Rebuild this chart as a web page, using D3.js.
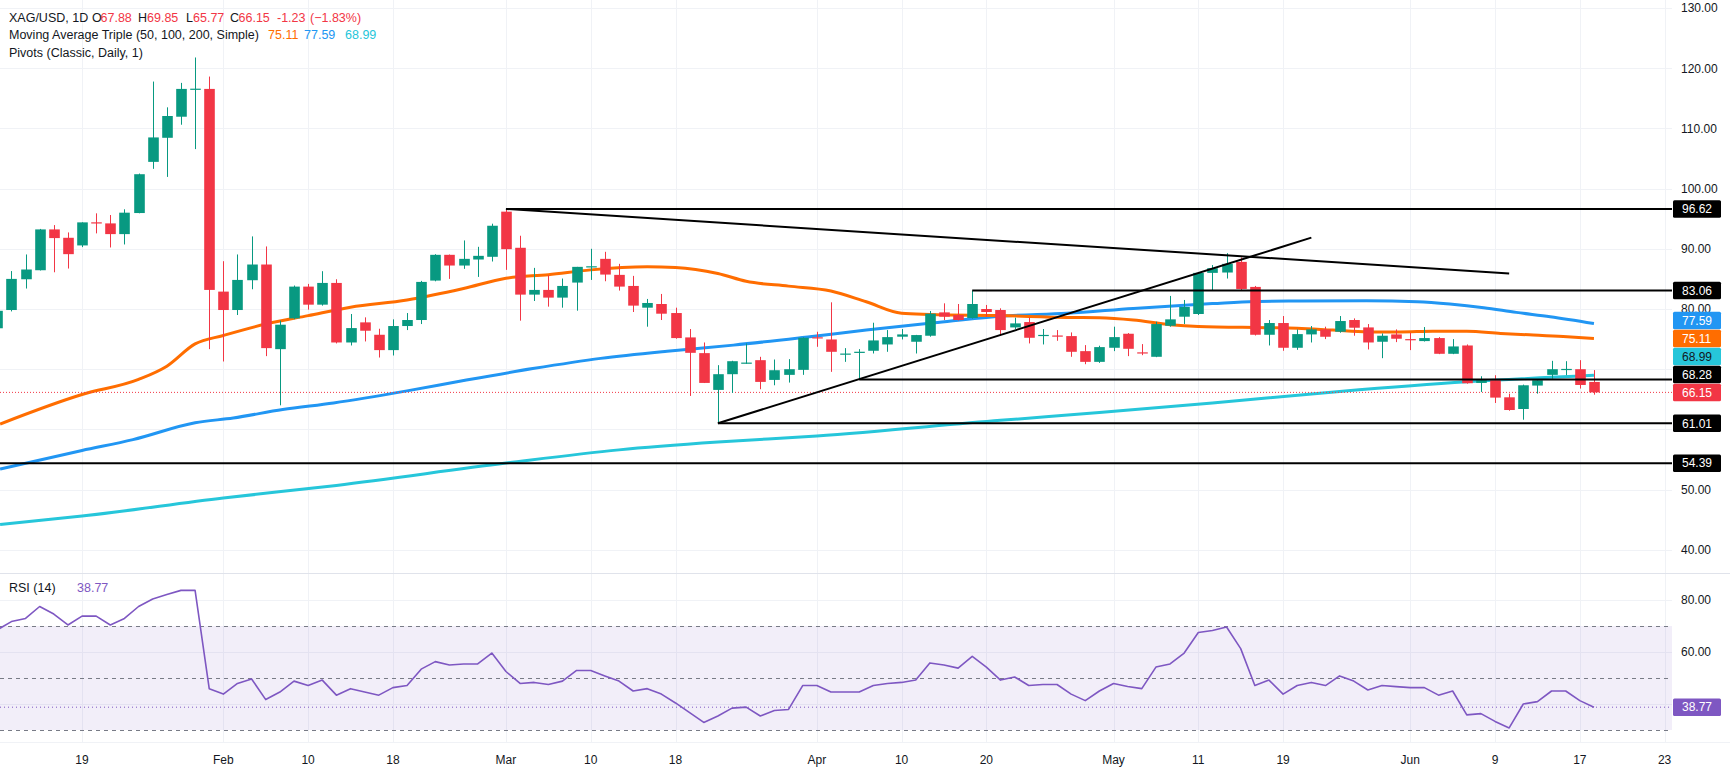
<!DOCTYPE html>
<html><head><meta charset="utf-8">
<script src="https://cdn.jsdelivr.net/npm/d3@7"></script>
<style>
body{margin:0;background:#fff;}
svg{display:block;font-family:"Liberation Sans",Arial,sans-serif;}
</style>
</head><body>
<svg id="chart" width="1730" height="775"></svg>
<script>
// ---------------- DATA ----------------
const dates = ["2026-01-09","2026-01-12","2026-01-13","2026-01-14","2026-01-15","2026-01-16","2026-01-19","2026-01-20","2026-01-21","2026-01-22","2026-01-23","2026-01-26","2026-01-27","2026-01-28","2026-01-29","2026-01-30","2026-02-02","2026-02-03","2026-02-04","2026-02-05","2026-02-06","2026-02-09","2026-02-10","2026-02-11","2026-02-12","2026-02-13","2026-02-16","2026-02-17","2026-02-18","2026-02-19","2026-02-20","2026-02-23","2026-02-24","2026-02-25","2026-02-26","2026-02-27","2026-03-02","2026-03-03","2026-03-04","2026-03-05","2026-03-06","2026-03-09","2026-03-10","2026-03-11","2026-03-12","2026-03-13","2026-03-16","2026-03-17","2026-03-18","2026-03-19","2026-03-20","2026-03-23","2026-03-24","2026-03-25","2026-03-26","2026-03-27","2026-03-30","2026-03-31","2026-04-01","2026-04-02","2026-04-06","2026-04-07","2026-04-08","2026-04-09","2026-04-10","2026-04-13","2026-04-14","2026-04-15","2026-04-16","2026-04-17","2026-04-20","2026-04-21","2026-04-22","2026-04-23","2026-04-24","2026-04-27","2026-04-28","2026-04-29","2026-04-30","2026-05-01","2026-05-04","2026-05-05","2026-05-06","2026-05-07","2026-05-08","2026-05-11","2026-05-12","2026-05-13","2026-05-14","2026-05-15","2026-05-18","2026-05-19","2026-05-20","2026-05-21","2026-05-22","2026-05-25","2026-05-26","2026-05-27","2026-05-28","2026-05-29","2026-06-01","2026-06-02","2026-06-03","2026-06-04","2026-06-05","2026-06-08","2026-06-09","2026-06-10","2026-06-11","2026-06-12","2026-06-15","2026-06-16","2026-06-17","2026-06-18"];

const open  = [76.8,79.83,84.94,86.44,93.22,91.83,90.56,94.4,94.22,92.44,95.94,104.44,108.44,111.94,116.5,116.56,82.89,79.83,84.78,87.39,73.33,78.44,83.72,80.72,84.33,74.44,77.78,75.72,73.17,77.17,78.17,84.72,89.0,87.22,88.22,88.67,96.17,90.17,82.39,83.17,81.89,84.39,87.0,88.33,85.67,83.83,80.22,80.83,79.33,75.28,72.67,66.56,69.17,71.0,71.5,68.22,69.06,69.89,75.3,74.94,72.5,72.8,73.06,74.11,75.4,74.56,75.56,79.44,79.0,78.5,80.0,79.83,76.94,77.83,75.6,75.6,75.5,73.0,71.22,73.56,75.89,72.8,72.06,77.22,78.72,79.17,86.0,86.06,87.83,83.67,75.72,77.67,73.56,75.78,76.61,76.22,78.17,76.94,74.56,75.78,75.0,74.67,75.17,72.56,73.94,67.72,68.17,65.33,63.39,67.28,69.06,69.95,70.0,67.88];
const high  = [80.0,86.3,89.06,93.3,93.94,92.72,94.4,95.89,95.61,96.56,102.5,117.78,113.5,117.56,121.78,118.61,87.94,89.06,92.06,90.39,78.06,83.9,84.17,86.28,84.94,79.17,78.61,76.72,78.28,79.33,84.67,89.1,89.05,91.39,90.33,94.17,96.62,92.17,86.83,85.61,85.06,87.0,90.0,89.5,87.5,85.5,81.67,82.5,80.22,76.67,74.44,70.67,71.4,74.28,72.06,71.61,71.67,75.3,76.22,81.11,73.5,73.33,77.72,76.5,76.67,75.7,79.67,80.94,80.83,83.06,80.67,80.11,78.56,78.56,76.67,76.5,76.11,74.0,73.9,77.06,76.0,74.17,77.89,82.17,81.5,86.1,87.3,89.28,88.56,83.83,78.17,78.83,76.61,77.17,77.06,78.83,78.44,77.5,75.94,76.61,76.06,77.0,75.33,75.0,74.11,68.83,69.0,65.94,67.44,68.2,71.39,71.33,71.5,69.85];
const low   = [76.3,79.6,83.4,86.4,86.1,86.72,90.28,92.56,90.22,90.72,95.9,103.28,101.94,110.61,106.56,73.33,71.28,79.0,83.28,72.17,64.0,78.3,79.89,80.56,74.28,73.94,74.61,71.94,72.28,76.5,77.5,84.6,85.0,86.67,85.33,87.89,86.5,78.06,81.33,80.39,80.22,79.72,84.83,84.61,83.06,79.5,77.06,78.17,75.06,65.56,67.7,61.01,66.06,70.9,66.67,67.33,67.78,69.06,73.72,69.56,71.22,68.28,72.61,72.89,74.94,72.61,75.4,78.17,78.1,78.4,78.72,75.56,76.67,74.28,74.11,74.72,72.06,70.83,71.05,73.0,72.17,72.33,72.0,77.06,77.5,79.0,83.06,85.06,83.17,75.6,73.94,73.06,73.22,74.44,75.0,76.06,75.56,73.28,71.83,74.5,73.17,74.6,72.5,72.5,67.6,66.22,64.39,63.1,61.61,65.94,68.44,69.0,66.78,65.77];
const close = [79.7,85.0,86.56,93.22,91.78,89.11,94.39,94.3,92.44,96.0,102.39,108.5,112.06,116.56,116.6,83.17,79.83,84.83,87.39,73.5,77.39,83.72,80.72,84.33,74.44,76.83,76.39,73.17,77.17,78.17,84.5,89.0,87.22,88.33,88.83,93.83,89.94,82.39,83.17,81.89,83.83,87.0,87.1,85.72,83.72,80.56,81.0,79.22,75.17,72.72,67.72,69.17,71.33,71.1,67.89,69.83,70.0,75.22,75.2,72.89,72.6,72.9,74.78,75.33,75.78,75.67,79.22,78.72,78.17,80.83,79.5,76.5,77.61,75.22,75.7,75.5,72.89,71.22,73.67,75.33,73.39,72.7,77.5,78.28,80.33,86.0,86.78,87.5,83.33,75.72,77.67,73.56,75.83,76.61,75.39,78.0,76.89,74.44,75.56,75.06,74.9,75.17,72.56,73.78,67.67,68.17,65.28,63.22,67.33,68.17,70.0,70.05,67.38,66.15];

const rsi = [68.5,71.7,72.9,77.5,74.6,70.4,73.8,73.8,70.4,72.9,77.5,80.4,82.1,83.7,83.7,45.9,43.8,47.9,49.6,41.7,44.6,48.8,47.1,49.2,43.4,45.9,44.6,43.4,46.3,47.1,53.4,56.3,55.0,55.4,55.4,59.6,52.5,47.9,48.3,47.5,48.8,52.9,52.9,50.8,48.8,45.0,45.9,43.8,40.4,36.7,32.9,35.4,38.4,38.8,35.4,37.5,37.9,47.1,47.1,44.6,44.6,44.6,47.1,47.9,48.3,49.2,55.8,55.0,53.8,58.3,54.2,49.2,50.4,47.1,47.5,47.5,43.8,41.3,45.0,47.9,46.7,45.9,54.2,55.4,59.6,67.5,68.3,69.6,61.3,47.1,49.2,43.8,47.1,48.3,47.1,50.8,48.8,45.4,47.1,46.7,46.3,46.3,43.4,45.0,35.8,36.3,33.3,30.8,40.0,40.9,45.0,45.0,41.3,38.77];

// moving averages: [bar index, value]
const ma50  = [[-0.8,60.9],[5,65.8],[9,68.3],[11,70.5],[13,74.2],[15,75.6],[18,77.5],[21,78.9],[24,80.3],[28,81.5],[32,83.4],[35,85.1],[38,85.7],[41,86.5],[45,87.0],[47,86.9],[50,85.9],[52,84.6],[55,83.8],[58,83.0],[60.5,81.2],[63,79.3],[65,79.1],[70,78.9],[74.7,78.6],[77,78.55],[79.4,78.17],[82,77.4],[84,77.1],[88.8,76.9],[91,76.8],[93.5,76.5],[96,76.2],[98.3,76.2],[100.6,76.3],[103,76.3],[105.4,75.95],[107.7,75.67],[110.1,75.4],[112,75.11]];
const ma100 = [[-0.8,53.4],[5,56.5],[8.6,58.3],[13,61.1],[15.7,61.9],[19.2,63.3],[22.8,64.4],[28,66.4],[32.2,68.2],[36.9,70.1],[41.7,71.8],[46.4,73.0],[51.1,74.0],[56.5,75.4],[60.5,76.5],[65.3,77.7],[70,78.8],[74.7,79.3],[79.4,80.1],[85,80.9],[88,81.25],[91.2,81.33],[95.9,81.39],[99.5,81.22],[101.8,80.83],[104.2,80.22],[106.5,79.44],[108.9,78.72],[112,77.59]];
const ma200 = [[-0.8,44.2],[5,45.6],[15,48.6],[23,50.7],[35,54.4],[43,56.6],[50,57.9],[57,58.9],[70,61.5],[77,62.8],[85,64.4],[94,66.3],[103,67.9],[112,68.99]];

const tickIndex  = [5,15,21,27,35,41,47,57,63,69,78,84,90,99,105,111,117];
const tickLabels = ["19","Feb","10","18","Mar","10","18","Apr","10","20","May","11","19","Jun","9","17","23"];
const priceTicks = [130,120,110,100,90,80,70,60,50,40];
const rsiTicks = [80,60,40];
const rsiBands = [70,50,30];

const pivotLevels = [96.62,83.06,68.28,61.01,54.39];
const pivotStart  = [35,68,60,50,-2];
const trendLines  = [[35,96.62,106,85.9],[50,61.01,92,91.85]];

const last = {o:67.88,h:69.85,l:65.77,c:66.15,chg:"-1.23",pct:"(\u22121.83%)"};
const maLast = [75.11,77.59,68.99];
const rsiLast = 38.77;

// ---------------- LAYOUT ----------------
const W=1730, H=775, paneR=1672, mainTop=0, mainBot=573, rsiBot=742;
const firstIdx = -1;
const col = {up:"#089981", dn:"#F23645", ma50:"#FF6D00", ma100:"#2196F3", ma200:"#26C6DA", rsi:"#7E57C2", text:"#131722", grid:"#F0F2F6"};

const svg = d3.select("#chart");
const x = d3.scaleLinear().domain([0,117]).range([11.4,1664.6]);
const y = d3.scaleLinear().domain([40,130]).range([549.8,8]);
const yr = d3.scaleLinear().domain([30,80]).range([730,600]);

const defs = svg.append("defs");
defs.append("clipPath").attr("id","cm").append("rect").attr("x",0).attr("y",mainTop).attr("width",paneR).attr("height",mainBot-mainTop);
defs.append("clipPath").attr("id","cr").append("rect").attr("x",0).attr("y",mainBot).attr("width",paneR).attr("height",rsiBot-mainBot);

// grid
const g0 = svg.append("g");
g0.selectAll(".vg").data(tickIndex).join("line")
  .attr("x1",d=>Math.round(x(d))+0.5).attr("x2",d=>Math.round(x(d))+0.5)
  .attr("y1",0).attr("y2",rsiBot).attr("stroke",col.grid);
g0.selectAll(".hg").data(priceTicks).join("line")
  .attr("x1",0).attr("x2",paneR).attr("y1",d=>Math.round(y(d))+0.5).attr("y2",d=>Math.round(y(d))+0.5).attr("stroke",col.grid);
g0.selectAll(".rg").data(rsiTicks).join("line")
  .attr("x1",0).attr("x2",paneR).attr("y1",d=>Math.round(yr(d))+0.5).attr("y2",d=>Math.round(yr(d))+0.5).attr("stroke",col.grid);

// separators
svg.append("line").attr("x1",0).attr("x2",W).attr("y1",mainBot+0.5).attr("y2",mainBot+0.5).attr("stroke","#E0E3EB");
svg.append("line").attr("x1",0).attr("x2",W).attr("y1",rsiBot+0.5).attr("y2",rsiBot+0.5).attr("stroke","#F0F2F6");

// ---------------- MAIN PANE ----------------
const gm = svg.append("g").attr("clip-path","url(#cm)");

const lineGen = d3.line().x(d=>x(d[0])).y(d=>y(d[1])).curve(d3.curveMonotoneX);
[[ma200,col.ma200],[ma100,col.ma100],[ma50,col.ma50]].forEach(([d,c])=>{
  gm.append("path").attr("d",lineGen(d)).attr("fill","none").attr("stroke",c).attr("stroke-width",3).attr("stroke-linejoin","round");
});

// current price dotted line
gm.append("line").attr("x1",0).attr("x2",paneR).attr("y1",y(last.c)).attr("y2",y(last.c))
  .attr("stroke",col.dn).attr("stroke-width",1).attr("stroke-dasharray","1,2");

// candles
const bars = dates.map((d,k)=>({i:k+firstIdx,o:open[k],h:high[k],l:low[k],c:close[k]}));
const bw = 10.6;
const gc = gm.append("g");
gc.selectAll(".wick").data(bars).join("line")
  .attr("x1",d=>Math.round(x(d.i))+0.5).attr("x2",d=>Math.round(x(d.i))+0.5)
  .attr("y1",d=>y(d.h)).attr("y2",d=>y(d.l))
  .attr("stroke",d=>d.c>=d.o?col.up:col.dn).attr("stroke-width",1);
gc.selectAll(".body").data(bars).join("rect")
  .attr("x",d=>Math.round(x(d.i))+0.5-bw/2).attr("width",bw)
  .attr("y",d=>Math.min(y(d.o),y(d.c)))
  .attr("height",d=>Math.max(1.2,Math.abs(y(d.o)-y(d.c))))
  .attr("fill",d=>d.c>=d.o?col.up:col.dn);

// pivots
gm.selectAll(".pv").data(pivotLevels).join("line")
  .attr("x1",(d,k)=>pivotStart[k]<-1?0:x(pivotStart[k])).attr("x2",paneR)
  .attr("y1",d=>y(d)).attr("y2",d=>y(d)).attr("stroke","#000").attr("stroke-width",2);
// trend lines
gm.selectAll(".tl").data(trendLines).join("line")
  .attr("x1",d=>x(d[0])).attr("y1",d=>y(d[1])).attr("x2",d=>x(d[2])).attr("y2",d=>y(d[3]))
  .attr("stroke","#000").attr("stroke-width",2);

// ---------------- RSI PANE ----------------
const gr = svg.append("g").attr("clip-path","url(#cr)");
gr.append("rect").attr("x",0).attr("width",paneR).attr("y",yr(70)).attr("height",yr(30)-yr(70)).attr("fill","rgba(126,87,194,0.1)");
gr.selectAll(".band").data(rsiBands).join("line")
  .attr("x1",0).attr("x2",paneR).attr("y1",d=>Math.round(yr(d))+0.5).attr("y2",d=>Math.round(yr(d))+0.5)
  .attr("stroke","#787B86").attr("stroke-dasharray","4,4").attr("stroke-width",1);
gr.append("line").attr("x1",0).attr("x2",paneR).attr("y1",yr(rsiLast)).attr("y2",yr(rsiLast))
  .attr("stroke",col.rsi).attr("stroke-width",1).attr("stroke-dasharray","1,3");
const rsiLine = d3.line().x((d,k)=>x(k+firstIdx)).y(d=>yr(d));
gr.append("path").attr("d",rsiLine(rsi)).attr("fill","none").attr("stroke",col.rsi).attr("stroke-width",1.6).attr("stroke-linejoin","round");

// ---------------- AXIS VALUE BOXES ----------------
const boxes = [
  {v:pivotLevels[0],bg:"#000",fg:"#fff"},
  {v:pivotLevels[1],bg:"#000",fg:"#fff"},
  {v:maLast[1],bg:col.ma100,fg:"#fff"},
  {v:maLast[0],bg:col.ma50,fg:"#fff"},
  {v:maLast[2],bg:col.ma200,fg:"#131722"},
  {v:pivotLevels[2],bg:"#000",fg:"#fff"},
  {v:last.c,bg:col.dn,fg:"#fff",fixed:true},
  {v:pivotLevels[3],bg:"#000",fg:"#fff"},
  {v:pivotLevels[4],bg:"#000",fg:"#fff"}
];
boxes.forEach(b=>b.y=y(b.v));
const bh = 18;
const fixed = boxes.find(b=>b.fixed);
const above = boxes.filter(b=>!b.fixed && b.y<=fixed.y).sort((a,b)=>b.y-a.y);
let prev = fixed.y;
above.forEach(b=>{ b.y=Math.min(b.y,prev-bh); prev=b.y; });
const below = boxes.filter(b=>!b.fixed && b.y>fixed.y).sort((a,b)=>a.y-b.y);
prev = fixed.y;
below.forEach(b=>{ b.y=Math.max(b.y,prev+bh); prev=b.y; });
boxes.push({v:rsiLast,bg:col.rsi,fg:"#fff",y:yr(rsiLast)});

// ---------------- AXES ----------------
const fs = 12;
svg.append("g").selectAll("text").data(tickIndex).join("text")
  .attr("x",d=>x(d)).attr("y",764).attr("text-anchor","middle")
  .attr("font-size",fs).attr("fill",col.text).text((d,k)=>tickLabels[k]);
// tick labels hidden where a value box covers them (as on the reference scale)
const free = py => !boxes.some(b=>Math.abs(b.y-py)<10.5);
svg.append("g").selectAll("text").data(priceTicks.filter(d=>free(y(d)))).join("text")
  .attr("x",1681).attr("y",d=>y(d)+4.3).attr("font-size",fs).attr("fill",col.text)
  .text(d=>d3.format(".2f")(d));
svg.append("g").selectAll("text").data(rsiTicks.filter(d=>free(yr(d)))).join("text")
  .attr("x",1681).attr("y",d=>yr(d)+4.3).attr("font-size",fs).attr("fill",col.text)
  .text(d=>d3.format(".2f")(d));

const gb = svg.append("g");
gb.selectAll("rect").data(boxes).join("rect")
  .attr("x",1673).attr("width",48).attr("y",d=>d.y-8.75).attr("height",17.5).attr("rx",1.5).attr("fill",d=>d.bg);
gb.selectAll("text").data(boxes).join("text")
  .attr("x",1682).attr("y",d=>d.y+4.3).attr("font-size",fs).attr("fill",d=>d.fg)
  .text(d=>d3.format(".2f")(d.v));

// ---------------- LEGENDS ----------------
function legend(yb, parts){
  const t = svg.append("text").attr("y",yb).attr("font-size",12.5);
  parts.forEach(p=>t.append("tspan").attr("x",p[0]).attr("fill",p[2]).text(p[1]));
}
legend(21.5,[[9,"XAG/USD, 1D",col.text],[92,"O",col.text],[100.5,d3.format(".2f")(last.o),col.dn],[138,"H",col.text],[147,d3.format(".2f")(last.h),col.dn],[186,"L",col.text],[193,d3.format(".2f")(last.l),col.dn],[230,"C",col.text],[238.5,d3.format(".2f")(last.c),col.dn],[277,last.chg,col.dn],[310,last.pct,col.dn]]);
legend(39,[[9,"Moving Average Triple (50, 100, 200, Simple)",col.text],[268,d3.format(".2f")(maLast[0]),col.ma50],[304,d3.format(".2f")(maLast[1]),col.ma100],[345,d3.format(".2f")(maLast[2]),col.ma200]]);
legend(56.5,[[9,"Pivots (Classic, Daily, 1)",col.text]]);
legend(591.5,[[9,"RSI (14)",col.text],[77,d3.format(".2f")(rsiLast),col.rsi]]);
</script>
</body></html>
